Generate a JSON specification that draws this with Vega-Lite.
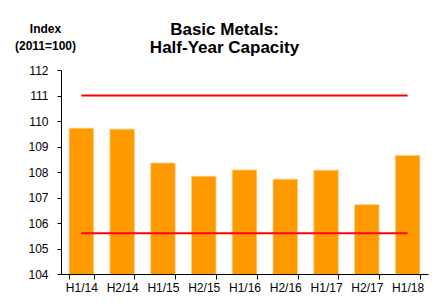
{
  "$schema": "https://vega.github.io/schema/vega-lite/v6.json",
  "width": 367,
  "height": 204,
  "autosize": {"type": "none"},
  "padding": {"left": 61, "top": 70, "right": 8, "bottom": 34},
  "background": "white",
  "config": {
    "font": "Liberation Sans",
    "view": {"stroke": null},
    "axis": {"grid": false, "domainColor": "black", "tickColor": "black", "labelColor": "black", "labelFont": "Liberation Sans", "labelFontSize": 12}
  },
  "title": {
    "text": ["Basic Metals:", "Half-Year Capacity"],
    "fontSize": 17,
    "fontWeight": "bold",
    "font": "Liberation Sans",
    "color": "black",
    "anchor": "middle",
    "frame": "group",
    "dx": -20,
    "offset": -35,
    "lineHeight": 18
  },
  "datasets": {
    "bars": [
      {"period": "H1/14", "value": 109.72},
      {"period": "H2/14", "value": 109.68},
      {"period": "H1/15", "value": 108.35},
      {"period": "H2/15", "value": 107.83},
      {"period": "H1/16", "value": 108.08},
      {"period": "H2/16", "value": 107.72},
      {"period": "H1/17", "value": 108.07},
      {"period": "H2/17", "value": 106.72},
      {"period": "H1/18", "value": 108.65}
    ],
    "limits": [
      {"start": "H1/14", "end": "H1/18", "value": 111},
      {"start": "H1/14", "end": "H1/18", "value": 105.6}
    ]
  },
  "encoding": {
    "y": {
      "field": "value", "type": "quantitative",
      "scale": {"domain": [104, 112], "nice": false, "zero": false},
      "axis": {
        "values": [104, 105, 106, 107, 108, 109, 110, 111, 112],
        "labelOverlap": false,
        "tickSize": 4,
        "labelPadding": 9,
        "title": ["Index", "(2011=100)"],
        "titleAngle": 0,
        "titleFontSize": 12,
        "titleFontWeight": "bold",
        "titleColor": "black",
        "titleAlign": "center",
        "titleBaseline": "top",
        "titleX": -16,
        "titleY": -47,
        "titleLineHeight": 17
      }
    }
  },
  "layer": [
    {
      "data": {"name": "bars"},
      "mark": {"type": "bar", "color": "#FF9900", "stroke": "#FFCC80", "strokeWidth": 0.8, "clip": true},
      "encoding": {
        "x": {
          "field": "period", "type": "ordinal", "sort": null,
          "scale": {"paddingInner": 0.4, "paddingOuter": 0.2},
          "axis": {"title": null, "labelAngle": 0, "tickBand": "extent", "tickSize": 5, "labelPadding": 3}
        }
      }
    },
    {
      "data": {"name": "limits"},
      "mark": {"type": "rule", "color": "#FF0000", "strokeWidth": 2},
      "encoding": {
        "x": {"field": "start", "type": "ordinal", "sort": null},
        "x2": {"field": "end"}
      }
    }
  ]
}
